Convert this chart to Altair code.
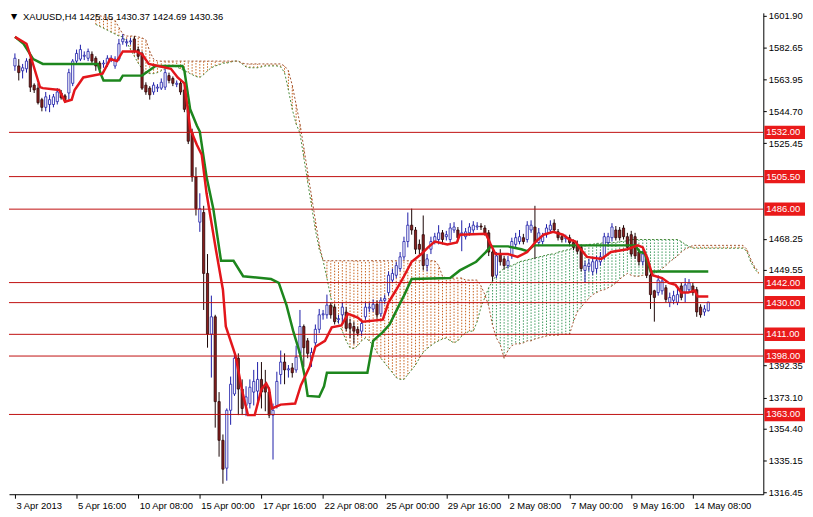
import json
import altair as alt
import pandas as pd

# ---------------- data ----------------
opens = [1571.8, 1571.8, 1568.9, 1570.1, 1575.9, 1560.3, 1558.5, 1551.6, 1547.0, 1548.7,
         1548.7, 1550.4, 1555.6, 1553.9, 1555.6, 1561.4, 1574.7, 1575.9, 1577.6, 1576.4,
         1578.8, 1576.4, 1573.5, 1573.0, 1573.0, 1575.9, 1571.8, 1575.9, 1586.3, 1585.7,
         1586.3, 1588.0, 1581.6, 1579.3, 1560.3, 1558.5, 1556.2, 1558.5, 1558.5, 1559.1,
         1566.0, 1564.3, 1560.8, 1561.4, 1557.4, 1545.8, 1531.4, 1505.3, 1478.2, 1484.0,
         1447.5, 1411.1, 1421.5, 1370.7, 1347.5, 1330.8, 1365.5, 1375.3, 1396.7, 1378.2,
         1368.4, 1369.5, 1376.4, 1377.0, 1384.0, 1381.1, 1376.4, 1362.6, 1368.4, 1386.9,
         1394.4, 1389.7, 1390.9, 1389.7, 1399.6, 1415.7, 1407.1, 1395.5, 1405.9, 1414.0,
         1422.7, 1422.7, 1428.5, 1427.3, 1419.8, 1422.7, 1424.4, 1417.5, 1415.7, 1414.0,
         1412.9, 1421.5, 1426.7, 1426.2, 1429.0, 1423.3, 1431.4, 1436.0, 1443.5, 1446.4,
         1450.4, 1457.4, 1466.6, 1476.4, 1473.5, 1464.9, 1470.7, 1452.2, 1462.0, 1466.6,
         1467.8, 1471.8, 1469.5, 1467.8, 1473.5, 1473.5, 1471.2, 1469.5, 1471.8, 1473.5,
         1475.3, 1475.9, 1474.7, 1471.8, 1460.3, 1446.4, 1459.1, 1456.2, 1452.2, 1458.0,
         1464.9, 1466.6, 1468.9, 1467.8, 1473.5, 1475.3, 1466.0, 1466.6, 1470.7, 1473.5,
         1477.6, 1472.4, 1469.5, 1468.3, 1468.9, 1466.0, 1464.9, 1463.1, 1449.3, 1451.6,
         1448.7, 1450.4, 1454.5, 1457.4, 1466.0, 1468.9, 1473.5, 1473.5, 1474.7, 1469.5,
         1470.7, 1469.5, 1460.3, 1454.5, 1457.4, 1446.4, 1437.1, 1436.0, 1437.1, 1438.9,
         1430.2, 1431.4, 1430.2, 1440.0, 1436.0, 1437.7, 1440.0, 1437.7, 1427.3, 1424.4,
         1425.15]
highs = [1579.3, 1575.9, 1573.0, 1576.4, 1577.0, 1561.4, 1561.4, 1552.7, 1556.2, 1554.5,
         1555.0, 1558.5, 1557.4, 1555.0, 1570.1, 1575.9, 1581.6, 1584.5, 1580.5, 1582.2,
         1580.5, 1577.6, 1574.7, 1575.3, 1578.2, 1578.2, 1577.6, 1588.0, 1590.9, 1588.0,
         1588.6, 1589.7, 1583.4, 1580.5, 1562.0, 1559.7, 1562.0, 1560.9, 1564.3, 1570.1,
         1567.8, 1565.5, 1563.1, 1563.1, 1558.5, 1548.1, 1534.2, 1511.1, 1495.5, 1488.0,
         1459.1, 1434.2, 1422.7, 1376.4, 1351.0, 1366.6, 1385.7, 1401.3, 1399.6, 1384.0,
         1379.9, 1384.0, 1389.7, 1394.4, 1394.4, 1389.7, 1379.3, 1369.5, 1388.6, 1401.3,
         1399.6, 1392.6, 1393.8, 1404.2, 1425.6, 1416.9, 1408.8, 1403.0, 1416.9, 1426.2,
         1425.6, 1434.8, 1430.2, 1429.0, 1422.7, 1430.2, 1427.3, 1420.4, 1418.6, 1415.7,
         1419.8, 1430.2, 1430.2, 1431.9, 1431.4, 1433.1, 1434.8, 1448.7, 1450.4, 1454.5,
         1460.3, 1469.5, 1484.0, 1486.3, 1475.3, 1467.8, 1482.2, 1459.1, 1469.5, 1471.8,
         1476.4, 1473.5, 1473.0, 1477.6, 1478.2, 1475.3, 1479.3, 1474.7, 1477.6, 1478.8,
         1478.2, 1477.6, 1476.4, 1473.5, 1462.0, 1460.3, 1462.0, 1458.0, 1458.0, 1468.9,
         1471.8, 1473.5, 1471.2, 1478.8, 1479.3, 1488.0, 1474.7, 1471.8, 1477.0, 1479.3,
         1479.9, 1474.1, 1471.2, 1470.7, 1470.7, 1467.8, 1467.2, 1464.9, 1455.1, 1456.2,
         1457.4, 1458.0, 1460.3, 1471.8, 1471.8, 1477.6, 1475.9, 1475.3, 1476.4, 1471.8,
         1473.0, 1471.8, 1462.0, 1461.4, 1459.1, 1447.5, 1437.7, 1446.4, 1445.2, 1440.6,
         1436.0, 1437.1, 1438.3, 1441.8, 1444.7, 1444.1, 1441.8, 1439.4, 1429.0, 1428.5,
         1430.37]
lows = [1568.9, 1563.1, 1564.3, 1567.8, 1556.2, 1555.6, 1548.7, 1544.6, 1544.6, 1544.1,
        1547.0, 1548.7, 1551.6, 1549.8, 1551.6, 1559.7, 1573.0, 1574.7, 1575.3, 1574.7,
        1573.0, 1568.9, 1567.8, 1570.7, 1571.2, 1574.1, 1570.1, 1574.7, 1584.5, 1583.4,
        1584.5, 1579.3, 1575.9, 1557.4, 1554.5, 1551.6, 1554.5, 1556.2, 1557.4, 1557.4,
        1561.4, 1559.7, 1559.1, 1554.5, 1544.1, 1525.0, 1502.4, 1482.2, 1472.4, 1425.6,
        1403.0, 1385.1, 1355.1, 1337.7, 1321.5, 1323.3, 1356.8, 1374.1, 1362.6, 1362.6,
        1362.0, 1366.6, 1368.4, 1368.4, 1366.6, 1364.9, 1360.8, 1336.0, 1366.6, 1381.1,
        1381.1, 1385.1, 1385.1, 1388.0, 1397.3, 1391.5, 1396.7, 1391.5, 1403.0, 1411.7,
        1419.8, 1420.4, 1420.4, 1416.9, 1417.5, 1417.5, 1412.9, 1408.8, 1405.3, 1410.0,
        1410.0, 1419.8, 1424.4, 1424.4, 1420.4, 1421.5, 1429.0, 1434.2, 1441.8, 1444.7,
        1448.7, 1455.6, 1463.1, 1470.7, 1459.1, 1459.1, 1449.3, 1448.7, 1459.1, 1464.9,
        1464.9, 1464.9, 1467.2, 1466.0, 1471.8, 1466.6, 1460.8, 1467.8, 1470.1, 1471.8,
        1473.5, 1473.5, 1470.1, 1457.9, 1442.9, 1444.7, 1452.2, 1449.9, 1450.4, 1456.2,
        1462.6, 1464.9, 1464.9, 1466.0, 1471.8, 1456.2, 1463.7, 1464.9, 1468.9, 1471.8,
        1471.8, 1467.2, 1466.0, 1466.0, 1463.7, 1461.4, 1459.1, 1448.7, 1441.8, 1448.7,
        1446.4, 1447.5, 1452.2, 1455.6, 1463.7, 1466.6, 1467.2, 1467.2, 1467.8, 1461.4,
        1457.4, 1456.2, 1452.2, 1452.2, 1444.7, 1426.2, 1418.6, 1434.2, 1434.8, 1430.2,
        1427.3, 1429.0, 1428.5, 1431.4, 1430.2, 1436.0, 1434.2, 1421.5, 1421.0, 1422.1,
        1424.69]
closes = [1576.4, 1567.8, 1570.7, 1574.7, 1559.1, 1557.4, 1549.8, 1547.0, 1553.3, 1551.6,
          1553.3, 1556.2, 1552.7, 1551.6, 1567.8, 1574.7, 1579.3, 1581.6, 1578.2, 1580.5,
          1574.7, 1571.8, 1570.1, 1573.5, 1576.4, 1576.4, 1575.9, 1585.1, 1588.0, 1586.3,
          1586.8, 1580.5, 1577.6, 1558.5, 1556.2, 1554.5, 1560.3, 1559.1, 1562.0, 1567.8,
          1563.1, 1561.4, 1561.4, 1556.2, 1545.8, 1526.7, 1505.3, 1486.3, 1486.3, 1447.5,
          1411.1, 1421.5, 1370.7, 1347.5, 1330.2, 1365.5, 1381.1, 1396.7, 1378.2, 1366.6,
          1373.5, 1379.3, 1382.8, 1384.0, 1376.4, 1376.4, 1362.6, 1365.5, 1382.8, 1394.4,
          1389.7, 1390.3, 1388.0, 1397.3, 1415.7, 1403.0, 1399.6, 1400.1, 1414.0, 1422.7,
          1423.3, 1428.5, 1422.7, 1418.6, 1420.4, 1427.3, 1414.6, 1414.6, 1412.9, 1411.7,
          1417.5, 1427.3, 1427.3, 1429.0, 1422.7, 1431.4, 1432.5, 1446.4, 1447.5, 1452.2,
          1457.4, 1466.6, 1476.4, 1473.5, 1462.0, 1462.0, 1452.2, 1456.2, 1466.6, 1469.5,
          1471.8, 1467.8, 1470.7, 1474.7, 1475.3, 1468.9, 1471.8, 1472.4, 1475.3, 1476.4,
          1475.9, 1475.3, 1471.8, 1460.3, 1445.8, 1458.0, 1454.5, 1452.2, 1455.1, 1466.6,
          1468.9, 1469.5, 1466.6, 1476.4, 1476.4, 1466.0, 1471.8, 1469.5, 1474.7, 1476.4,
          1473.5, 1468.9, 1467.8, 1468.9, 1466.0, 1463.1, 1460.8, 1450.4, 1452.2, 1453.3,
          1454.5, 1455.1, 1457.4, 1469.5, 1469.5, 1475.3, 1468.9, 1468.9, 1469.5, 1463.1,
          1459.1, 1458.0, 1454.5, 1459.1, 1446.4, 1434.8, 1433.1, 1443.5, 1442.9, 1431.9,
          1433.1, 1434.2, 1434.8, 1433.1, 1440.6, 1441.8, 1436.0, 1424.4, 1422.7, 1426.2,
          1430.36]

span_first_bar = 21
span_a = [1596.7, 1595.5, 1594.4, 1593.2, 1592.0, 1590.9, 1589.7, 1589.2, 1586.3, 1581.6,
          1577.6, 1573.5, 1570.1, 1567.8, 1567.2, 1567.2, 1567.8, 1568.9, 1570.1, 1571.8,
          1571.8, 1571.2, 1570.1, 1568.9, 1567.8, 1566.6, 1565.5, 1564.9, 1566.6, 1568.9,
          1570.7, 1571.8, 1572.4, 1573.5, 1573.5, 1574.1, 1574.7, 1574.7, 1573.0, 1571.2,
          1570.7, 1570.7, 1570.7, 1571.2, 1571.8, 1571.8, 1571.8, 1571.8, 1571.2, 1567.8,
          1557.4, 1545.8, 1537.1, 1531.4, 1516.9, 1502.4, 1488.0, 1473.6, 1462.0, 1455.1,
          1444.7, 1433.1, 1423.3, 1417.5, 1412.9, 1407.1, 1403.0, 1402.5, 1404.2, 1407.1,
          1408.8, 1407.1, 1404.2, 1400.1, 1396.7, 1393.8, 1390.9, 1388.0, 1385.1, 1384.0,
          1384.0, 1386.9, 1389.7, 1392.6, 1396.7, 1400.1, 1402.5, 1404.2, 1405.9, 1407.1,
          1408.2, 1408.8, 1407.1, 1405.9, 1407.1, 1410.0, 1411.7, 1412.9, 1412.9, 1418.6,
          1427.3, 1433.1, 1438.9, 1442.9, 1446.4, 1448.7, 1450.4, 1451.6, 1452.2, 1453.3,
          1454.5, 1455.1, 1455.6, 1456.2, 1456.8, 1457.4, 1457.9, 1458.5, 1459.1, 1459.1,
          1460.3, 1460.8, 1461.4, 1462.0, 1462.6, 1463.1, 1463.7, 1464.3, 1464.9, 1464.9,
          1465.5, 1465.5, 1466.0, 1466.0, 1466.0, 1466.0, 1466.6, 1466.6, 1467.2, 1467.8,
          1467.8, 1467.8, 1467.8, 1467.8, 1467.8, 1467.8, 1467.8, 1467.8, 1467.8, 1467.8,
          1467.8, 1467.8, 1466.6, 1464.9, 1463.7, 1462.6, 1462.6, 1462.6, 1462.6, 1462.6,
          1462.6, 1462.6, 1462.6, 1462.6, 1462.6, 1462.6, 1462.6, 1462.6, 1462.6, 1460.8,
          1454.5, 1450.4, 1447.5]
span_b = [1601.9, 1601.9, 1601.3, 1600.7, 1600.1, 1599.0, 1594.9, 1590.9, 1589.7, 1589.7,
          1589.7, 1589.2, 1588.6, 1587.4, 1580.5, 1575.9, 1574.7, 1574.7, 1574.7, 1574.7,
          1574.7, 1574.7, 1574.7, 1574.7, 1574.7, 1574.7, 1574.7, 1574.7, 1574.7, 1574.7,
          1574.7, 1574.7, 1574.7, 1574.7, 1574.7, 1574.7, 1574.7, 1574.7, 1573.5, 1573.0,
          1573.0, 1573.0, 1573.0, 1573.0, 1573.0, 1573.0, 1573.0, 1573.0, 1573.0, 1571.8,
          1568.9, 1560.3, 1548.7, 1537.1, 1522.7, 1508.2, 1493.8, 1479.3, 1464.9, 1455.1,
          1455.1, 1455.1, 1455.1, 1455.1, 1455.1, 1455.1, 1455.1, 1455.1, 1455.1, 1455.1,
          1455.1, 1455.1, 1455.1, 1455.1, 1455.1, 1455.1, 1455.1, 1455.1, 1455.1, 1455.1,
          1455.1, 1455.1, 1455.1, 1455.1, 1455.1, 1455.1, 1455.1, 1455.1, 1455.1, 1452.2,
          1445.8, 1444.7, 1444.7, 1444.7, 1444.7, 1444.7, 1443.5, 1443.5, 1443.5, 1443.5,
          1440.0, 1434.8, 1427.9, 1416.3, 1408.8, 1404.8, 1396.7, 1401.3, 1404.2, 1405.3,
          1405.3, 1405.9, 1407.1, 1407.1, 1408.2, 1408.8, 1409.4, 1410.0, 1410.5, 1410.5,
          1410.5, 1411.1, 1411.1, 1411.1, 1418.6, 1424.4, 1427.3, 1430.2, 1432.5, 1434.8,
          1436.0, 1437.2, 1437.7, 1438.9, 1440.0, 1441.8, 1444.1, 1445.8, 1447.5, 1446.4,
          1445.8, 1445.8, 1446.4, 1446.4, 1445.8, 1447.5, 1448.7, 1450.4, 1452.2, 1454.5,
          1456.2, 1457.9, 1460.3, 1462.0, 1463.1, 1464.3, 1464.3, 1464.3, 1464.3, 1464.3,
          1464.3, 1464.3, 1464.3, 1464.3, 1464.3, 1464.3, 1464.3, 1464.3, 1464.3, 1462.0,
          1456.2, 1451.6, 1448.7]

tenkan_bar = [0, 3, 4.25, 6.5, 7.25, 11.5, 13, 14.75, 15.5, 17.75, 22.75, 24.75, 26.5, 28,
              31.5, 33, 34.75, 37.25, 40.5, 42.25, 44, 45.5, 47.25, 48.5, 49.75, 52.25, 54,
              54.75, 57.25, 59, 60.5, 62.25, 64, 65.25, 66, 66.75, 69, 72.75, 74.25, 76.5,
              78, 80.5, 82.25, 84.75, 86.5, 89, 90.25, 95.5, 97, 99, 101, 103, 105.5,
              107.25, 109, 112.25, 114.75, 115.5, 122.25, 123.5, 124.75, 128, 130.5, 133,
              135.25, 137.25, 139.75, 142.25, 144, 145.5, 146.5, 148.5, 152.25, 154.75,
              159, 161.75, 163, 164.25, 165.5, 168, 169.75, 171.5, 173, 174.75, 176.5,
              177.25, 180]
tenkan_val = [1589.2, 1585.1, 1576.4, 1559.1, 1558.5, 1557.4, 1550.4, 1551.6, 1557.4,
              1564.9, 1567.2, 1575.9, 1574.7, 1580.5, 1580.5, 1578.8, 1573.0, 1571.8,
              1570.1, 1564.9, 1561.4, 1534.2, 1524.4, 1518.6, 1495.5, 1460.8, 1437.7,
              1415.7, 1398.4, 1377.0, 1362.6, 1362.6, 1378.2, 1381.6, 1378.2, 1366.6,
              1368.9, 1369.5, 1380.5, 1391.5, 1403.6, 1407.1, 1415.2, 1416.3, 1423.3,
              1421.0, 1418.6, 1419.8, 1430.2, 1437.7, 1445.8, 1454.5, 1459.1, 1463.1,
              1466.6, 1464.9, 1466.0, 1470.7, 1471.2, 1464.9, 1459.1, 1459.1, 1457.4,
              1460.3, 1466.6, 1470.7, 1472.4, 1470.7, 1467.8, 1466.6, 1463.1, 1457.4,
              1456.2, 1460.3, 1462.0, 1464.3, 1463.1, 1456.2, 1446.4, 1444.7, 1441.8,
              1440.6, 1436.0, 1436.0, 1437.2, 1433.7, 1433.7]

kijun_bar = [0, 2.25, 4.75, 7.25, 21.5, 22.25, 23, 27.25, 28, 33, 34.75, 36.5, 43.5, 44,
             45.5, 47.25, 48, 49.75, 51.5, 53.5, 56.75, 59.25, 66.5, 68.5, 70.5, 72.25, 74,
             75.25, 76, 79, 80.25, 81, 91.5, 93, 95.5, 97.25, 99.75, 101, 103, 113, 115.5,
             119.75, 122.25, 123.5, 128, 131.5, 133, 134.75, 161, 162.25, 163.5, 165, 180]
kijun_val = [1589.2, 1585.1, 1575.9, 1573.0, 1573.0, 1567.2, 1563.1, 1563.1, 1566.0,
             1566.0, 1568.9, 1571.8, 1571.8, 1568.9, 1545.8, 1536.0, 1532.5, 1505.3,
             1486.3, 1455.1, 1455.1, 1445.8, 1444.1, 1441.8, 1428.5, 1412.9, 1399.6,
             1385.7, 1374.1, 1373.6, 1379.9, 1388.0, 1388.0, 1407.1, 1412.3, 1416.9,
             1428.5, 1434.2, 1444.1, 1444.7, 1449.3, 1454.5, 1460.3, 1463.7, 1463.7,
             1462.0, 1460.8, 1464.3, 1464.3, 1460.3, 1459.7, 1448.7, 1448.7]

levels = [1532.0, 1505.5, 1486.0, 1442.0, 1430.0, 1411.0, 1398.0, 1363.0]

y_tick_values = [1601.90, 1582.65, 1563.95, 1544.70, 1525.45, 1468.25,
                 1449.55, 1392.35, 1373.10, 1354.40, 1335.15, 1316.45]
x_tick_bars = [0, 16, 32, 48, 64, 80, 96, 112, 128, 144, 160, 176]
x_tick_labels = ["3 Apr 2013", "5 Apr 16:00", "10 Apr 08:00", "15 Apr 00:00",
                 "17 Apr 16:00", "22 Apr 08:00", "25 Apr 00:00", "29 Apr 16:00",
                 "2 May 08:00", "7 May 00:00", "9 May 16:00", "14 May 08:00"]
title_text = "XAUUSD,H4  1425.15 1430.37 1424.69 1430.36"

# ---------------- tables ----------------
candles = pd.DataFrame({"bar": list(range(len(opens))), "open": opens, "high": highs,
                        "low": lows, "close": closes})
spans = pd.DataFrame({"bar": [span_first_bar + i for i in range(len(span_a))],
                      "a": span_a, "b": span_b})
tenkan = pd.DataFrame({"bar": tenkan_bar, "v": tenkan_val})
kijun = pd.DataFrame({"bar": kijun_bar, "v": kijun_val})
lev = pd.DataFrame({"level": levels, "label": [f"{v:.2f}" for v in levels]})

FONT = "Liberation Sans"
FS = 9.5
W, H = 760, 485

xs = alt.Scale(domain=[-0.25, 193], nice=False, zero=False)
ys = alt.Scale(domain=[1315.2, 1603.6], nice=False, zero=False)

label_expr = "[" + ",".join(json.dumps(s) for s in x_tick_labels) + "][round(datum.value/16)]"
x_axis = alt.Axis(values=x_tick_bars, labelExpr=label_expr, labelAlign="left",
                  labelOffset=1, tickSize=4, labelPadding=2, grid=False, title=None,
                  domainColor="black", tickColor="black", labelColor="black",
                  labelFont=FONT, labelFontSize=FS, labelOverlap=False, labelFlush=False)
y_axis = alt.Axis(orient="right", values=y_tick_values, format=".2f", tickSize=3,
                  labelPadding=2, grid=False, title=None, domainColor="black",
                  tickColor="black", labelColor="black", labelFont=FONT,
                  labelFontSize=FS, labelOverlap=False, labelFlush=False)


def X(field="bar"):
    return alt.X(f"{field}:Q", scale=xs, axis=x_axis)


def Y(field):
    return alt.Y(f"{field}:Q", scale=ys, axis=y_axis)


ORANGE = "#c8641e"
GREEN = "#3e9b5e"

hatch = alt.Chart(spans).mark_rule(strokeWidth=1, strokeDash=[1.5, 1.5], clip=True).encode(
    x=X(), y=Y("a"), y2="b:Q",
    color=alt.condition("datum.a > datum.b", alt.value(GREEN), alt.value(ORANGE)))
line_a = alt.Chart(spans).mark_line(color="#4a8a3a", strokeWidth=1, strokeDash=[2, 2],
                                    clip=True).encode(x=X(), y=Y("a"))
line_b = alt.Chart(spans).mark_line(color="#a0502a", strokeWidth=1, strokeDash=[2, 2],
                                    clip=True).encode(x=X(), y=Y("b"))

up = "datum.close >= datum.open"
wicks = alt.Chart(candles).mark_rule(strokeWidth=1, clip=True).encode(
    x=X(), y=Y("low"), y2="high:Q",
    color=alt.condition(up, alt.value("#1c1ca8"), alt.value("#1a0505")))
bodies = alt.Chart(candles).mark_bar(size=2.2, strokeWidth=0.8, clip=True).encode(
    x=X(), y=Y("open"), y2="close:Q",
    fill=alt.condition(up, alt.value("#ffffff"), alt.value("#8a1f1f")),
    stroke=alt.condition(up, alt.value("#1c1ca8"), alt.value("#2a0808")))

level_rules = alt.Chart(lev).mark_rule(color="#c01010", strokeWidth=1).encode(y=Y("level"))

kijun_line = alt.Chart(kijun).mark_line(color="#1d861d", strokeWidth=2.5, clip=True).encode(
    x=X(), y=Y("v"))
tenkan_line = alt.Chart(tenkan).mark_line(color="#e3161b", strokeWidth=2.5, clip=True).encode(
    x=X(), y=Y("v"))

box_path = "M-1,-0.33L1,-0.33L1,0.33L-1,0.33Z"
boxes = alt.Chart(lev).mark_point(shape=box_path, size=1681, filled=True, opacity=1,
                                  color="#ea1a1a", strokeWidth=0, xOffset=21.5).encode(
    x=alt.value("width"), y=Y("level"))
box_text = alt.Chart(lev).mark_text(align="left", baseline="middle", dx=3, color="white",
                                    font=FONT, fontSize=FS).encode(
    x=alt.value("width"), y=Y("level"), text="label:N")

title_df = pd.DataFrame({"t": [title_text]})
title = alt.Chart(title_df).mark_text(align="left", baseline="middle", x=14, y=4,
                                      font=FONT, fontSize=FS, color="black").encode(text="t:N")
tri = alt.Chart(pd.DataFrame({"t": ["\u25bc"]})).mark_text(
    align="left", baseline="middle", x=2, y=4, font="DejaVu Sans", fontSize=8,
    color="black").encode(text="t:N")

chart = alt.layer(hatch, line_a, line_b, wicks, bodies, level_rules, kijun_line,
                  tenkan_line, boxes, box_text, title, tri).properties(
    width=W, height=H, padding=0, background="white"
).configure_view(stroke=None)

chart.save("out.html", embed_options={"renderer": "svg", "actions": False})
